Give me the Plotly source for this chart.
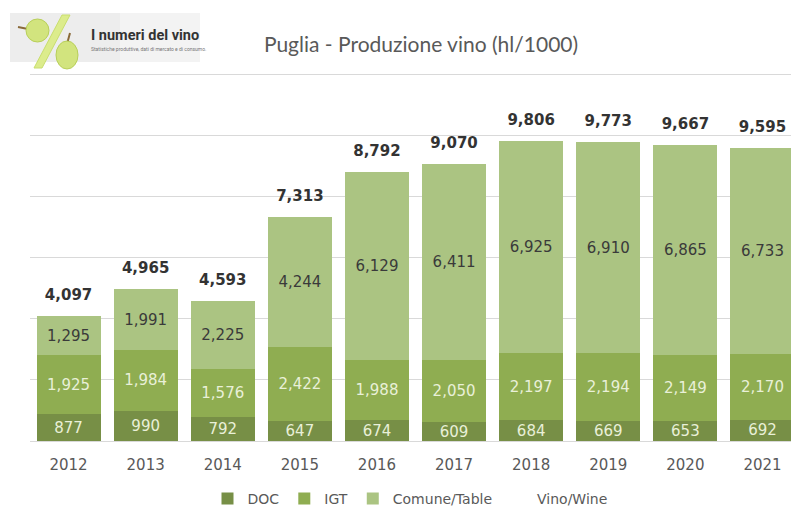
"""
Puglia - wine production by category (hl/1000), stacked bars with totals.
"""

import plotly.graph_objects as go

# ── Data ─────────────────────────────────────
years = ["2012", "2013", "2014", "2015", "2016", "2017", "2018", "2019", "2020", "2021"]
doc = [877, 990, 792, 647, 674, 609, 684, 669, 653, 692]
igt = [1925, 1984, 1576, 2422, 1988, 2050, 2197, 2194, 2149, 2170]
comune = [1295, 1991, 2225, 4244, 6129, 6411, 6925, 6910, 6865, 6733]
totale = [4097, 4965, 4593, 7313, 8792, 9070, 9806, 9773, 9667, 9595]

# ── Geometry of the plot area (px) ───────────
W_FIG, H_FIG = 791, 509
L, T = 30, 72
B = 441
PW, PH = W_FIG - L, B - T

C_DOC = "#778f46"
C_IGT = "#8fad51"
C_COM = "#abc482"
LIGHT_TXT = "#e9f0d8"
DARK_TXT = "#3a3a3a"
NUM_FONT = "DejaVu Sans"


def fx(px):
    return (px - L) / PW


def fy(py):
    return (B - py) / PH


def seg(name, vals, color, txt_color):
    return go.Bar(
        name=name,
        x=years, y=vals,
        marker=dict(color=color, line=dict(width=0)),
        text=[f"{v:,}" for v in vals],
        textposition="inside",
        insidetextanchor="middle",
        constraintext="none",
        textangle=0,
        textfont=dict(family=NUM_FONT, size=15, color=txt_color),
        hoverinfo="skip",
    )


fig = go.Figure()
fig.add_trace(seg("DOC", doc, C_DOC, LIGHT_TXT))
fig.add_trace(seg("IGT", igt, C_IGT, LIGHT_TXT))
fig.add_trace(seg("Comune/Table", comune, C_COM, DARK_TXT))

# totals carried by an invisible series, as in the original
fig.add_trace(go.Scatter(
    name="Vino/Wine",
    x=years, y=totale,
    mode="markers+text",
    marker=dict(size=18, color="rgba(0,0,0,0)"),
    text=[f"{v:,}" for v in totale],
    textposition="top center",
    textfont=dict(family=NUM_FONT, size=15, color="#333333", weight="bold"),
    hoverinfo="skip",
    cliponaxis=False,
))

# ── Logo block (shapes + text) ───────────────
shapes = [
    dict(type="rect", xref="paper", yref="paper",
         x0=fx(10), x1=fx(200), y0=fy(62), y1=fy(13),
         fillcolor="#ededed", line=dict(width=0), layer="above"),
    dict(type="rect", xref="paper", yref="paper",
         x0=fx(120), x1=fx(200), y0=fy(62), y1=fy(13),
         fillcolor="#f3f3f3", line=dict(width=0), layer="above"),
    # slash
    dict(type="path", xref="paper", yref="paper",
         path=f"M {fx(62)} {fy(15)} L {fx(70)} {fy(15)} L {fx(42)} {fy(68)} L {fx(34)} {fy(68)} Z",
         fillcolor="#dcec8c", line=dict(color="#c9de6e", width=1), layer="above"),
    # stems
    dict(type="line", xref="paper", yref="paper",
         x0=fx(18), x1=fx(28), y0=fy(27), y1=fy(29),
         line=dict(color="#8a6a3a", width=2), layer="above"),
    dict(type="line", xref="paper", yref="paper",
         x0=fx(70), x1=fx(67), y0=fy(33), y1=fy(44),
         line=dict(color="#8a6a3a", width=2), layer="above"),
    # grapes
    dict(type="circle", xref="paper", yref="paper",
         x0=fx(26), x1=fx(49), y0=fy(42), y1=fy(19),
         fillcolor="#d2e47e", line=dict(color="#b8cf5a", width=1), layer="above"),
    dict(type="circle", xref="paper", yref="paper",
         x0=fx(56), x1=fx(78), y0=fy(69), y1=fy(41),
         fillcolor="#d2e47e", line=dict(color="#b8cf5a", width=1), layer="above"),
]

annotations = [
    dict(text="I numeri del vino", xref="paper", yref="paper",
         x=fx(89), y=fy(35), xanchor="left", yanchor="middle", showarrow=False,
         font=dict(family="Liberation Sans Narrow, Roboto", size=14.5, color="#333333", weight="bold")),
    dict(text="Statistiche produttive, dati di mercato e di consumo.", xref="paper", yref="paper",
         x=fx(89), y=fy(49), xanchor="left", yanchor="middle", showarrow=False,
         font=dict(family="Liberation Sans Narrow, Roboto", size=5, color="#777777")),
]

fig.update_layout(
    width=W_FIG, height=H_FIG,
    barmode="stack",
    bargap=0.17,
    paper_bgcolor="white",
    plot_bgcolor="white",
    margin=dict(l=L, r=0, t=T, b=H_FIG - B, autoexpand=False),
    title=dict(
        text="Puglia - Produzione vino (hl/1000)",
        x=fx(421), xref="paper", xanchor="center",
        y=1 - 45 / H_FIG, yanchor="middle",
        font=dict(family="Lato", size=21, color="#595959"),
    ),
    xaxis=dict(
        range=[-0.5, 9.37],
        showgrid=False, showline=False, zeroline=False,
        ticks="outside", ticklen=10, tickcolor="rgba(0,0,0,0)",
        tickfont=dict(family=NUM_FONT, size=15, color="#595959"),
        fixedrange=True,
    ),
    yaxis=dict(
        range=[0, 12070], dtick=2000,
        showgrid=True, gridcolor="#d9d9d9", gridwidth=1,
        zeroline=True, zerolinecolor="#d9d9d9", zerolinewidth=1,
        showticklabels=False, showline=False,
        fixedrange=True,
    ),
    legend=dict(
        orientation="h",
        x=fx(410), xanchor="center",
        y=fy(499), yanchor="middle",
        itemwidth=30,
        font=dict(family=NUM_FONT, size=14, color="#595959"),
        traceorder="normal",
        bgcolor="rgba(0,0,0,0)",
    ),
    shapes=shapes,
    annotations=annotations,
    showlegend=True,
)

# the page's default 8px body margin would push the figure off the window
fig.write_html("out.html", config={"displayModeBar": False},
               post_script="document.body.style.margin='0px';")
